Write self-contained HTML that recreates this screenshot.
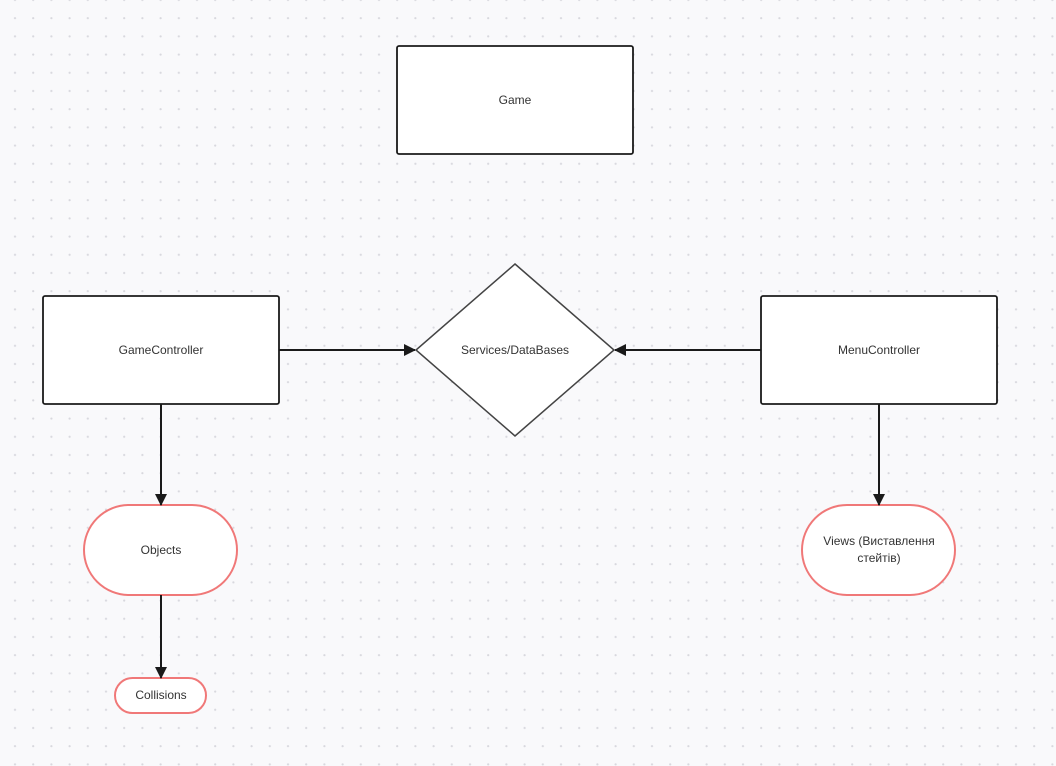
<!DOCTYPE html>
<html><head><style>
html,body{margin:0;padding:0;background:#f9f9fb;}
svg{display:block;font-family:"Liberation Sans","Noto Sans CJK SC",sans-serif;}
text{font-size:12px;fill:#333;text-anchor:middle;dominant-baseline:middle;}
</style></head><body>
<svg width="1056" height="766" xmlns="http://www.w3.org/2000/svg">
<defs>
<pattern id="g" x="6" y="-9" width="18.2" height="18.2" patternUnits="userSpaceOnUse">
<circle cx="9" cy="9" r="1.1" fill="#d8d8de"/></pattern>
<marker id="a" markerWidth="12" markerHeight="12" refX="11" refY="6" orient="auto" markerUnits="userSpaceOnUse">
<path d="M0,0 L12,6 L0,12 z" fill="#1a1a1a"/></marker>
</defs>
<rect width="1056" height="766" fill="url(#g)"/>
<g stroke="#1a1a1a" stroke-width="1.8" fill="#fff">
<rect x="397" y="46" width="236" height="108" rx="2"/>
<rect x="43" y="296" width="236" height="108" rx="2"/>
<rect x="761" y="296" width="236" height="108" rx="2"/>
</g>
<polygon points="515,264 614,350 515,436 416,350" fill="#fff" stroke="#444" stroke-width="1.5"/>
<g stroke="#f07878" stroke-width="2" fill="#fff">
<rect x="84" y="505" width="153" height="90" rx="45"/>
<rect x="802" y="505" width="153" height="90" rx="45"/>
<rect x="115" y="678" width="91" height="35" rx="17.5"/>
</g>
<g stroke="#1a1a1a" stroke-width="2" fill="none">
<line x1="279" y1="350" x2="415" y2="350" marker-end="url(#a)"/>
<line x1="761" y1="350" x2="615" y2="350" marker-end="url(#a)"/>
<line x1="161" y1="404" x2="161" y2="505" marker-end="url(#a)"/>
<line x1="879" y1="404" x2="879" y2="505" marker-end="url(#a)"/>
<line x1="161" y1="595" x2="161" y2="678" marker-end="url(#a)"/>
</g>
<text x="515" y="101">Game</text>
<text x="161" y="351">GameController</text>
<text x="879" y="351">MenuController</text>
<text x="515" y="351">Services/DataBases</text>
<text x="161" y="551">Objects</text>
<text x="879" y="542">Views (Виставлення</text>
<text x="879" y="559">стейтів)</text>
<text x="161" y="696">Collisions</text>
</svg>
</body></html>
